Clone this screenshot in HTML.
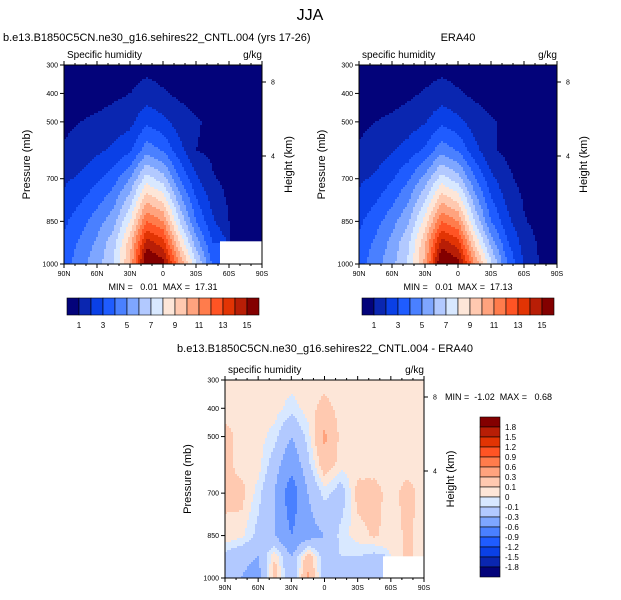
<!DOCTYPE html>
<html><head><meta charset="utf-8">
<style>
body{margin:0;background:#fff;}
svg{display:block;font-family:"Liberation Sans",Arial,sans-serif;}
text{white-space:pre;}
</style></head>
<body>
<svg id="root" width="621" height="600" viewBox="0 0 621 600" xmlns="http://www.w3.org/2000/svg">
<text x="310" y="20" font-size="16" text-anchor="middle">JJA</text>
<g id="layer"></g>
</svg>
<script>
// ---- data ----
const lats = [90,75,60,45,30,15,0,-15,-30,-45,-60,-75,-90];
const plevs = [300,400,500,600,700,850,925,1000];
const modelQ = [
 [0.2,0.2,0.3,0.4,0.5,0.7,0.6,0.4,0.3,0.2,0.1,0.1,0.1],
 [0.4,0.5,0.6,0.8,1.0,1.4,1.1,0.8,0.6,0.4,0.3,0.1,0.1],
 [0.8,1.0,1.2,1.4,1.7,2.8,2.3,1.5,1.1,0.8,0.5,0.3,0.2],
 [1.1,1.4,1.8,2.2,2.8,4.6,3.9,2.4,1.0,0.8,0.6,0.4,0.3],
 [1.8,2.2,2.8,3.6,5.0,7.5,6.5,4.0,2.2,1.1,0.7,0.5,0.4],
 [2.8,3.6,4.5,5.6,8.0,12,11,7.0,4.0,2.2,1.0,0.6,0.5],
 [3.2,4.2,5.2,6.6,9.5,14.5,13.5,9.0,5.5,3.0,NaN,NaN,NaN],
 [3.6,4.6,5.6,7.0,10,16.5,15.5,11,7.2,3.8,NaN,NaN,NaN]
];
const eraQ = [
 [0.2,0.2,0.3,0.4,0.5,0.7,0.6,0.4,0.3,0.2,0.1,0.1,0.1],
 [0.4,0.5,0.6,0.8,1.1,1.4,1.1,0.8,0.6,0.4,0.3,0.1,0.1],
 [0.8,1.0,1.2,1.5,1.9,2.8,2.3,1.5,1.1,0.8,0.5,0.3,0.2],
 [1.1,1.4,1.9,2.4,3.2,4.6,3.9,2.4,1.1,0.8,0.6,0.4,0.3],
 [1.8,2.2,2.9,3.9,5.4,7.5,6.5,4.1,2.3,1.2,0.7,0.5,0.4],
 [2.8,3.6,4.6,5.9,8.4,12,11,7.0,4.0,2.3,1.1,0.6,0.5],
 [3.2,4.2,5.3,6.8,9.8,14.5,13.5,9.0,5.6,3.1,1.6,0.8,0.6],
 [3.6,4.6,5.7,7.2,10.3,16.5,15.5,11,7.3,4.0,1.9,0.9,0.7]
];
const diffQ = [
 [.05,.05,.05,.05,.05,.05,.05,.05,.05,.05,.05,.05,.05],
 [.05,.05,.05,.05,-.05,.05,.15,.05,.05,.05,.05,.05,.05],
 [.15,.05,.05,-.05,-.3,-.05,.35,.05,.05,.05,.05,.05,.05],
 [.15,.05,.05,-.2,-.5,-.15,.2,.05,.05,.05,.05,.05,.05],
 [.12,.15,-.05,-.3,-.8,-.3,-.05,-.2,.15,.15,.05,.15,.05],
 [.08,.03,-.15,-.3,-.6,-.4,-.3,-.05,.05,.12,.05,.12,.05],
 [-.15,-.25,-.3,.1,-.3,.2,-.2,-.1,-.1,-.15,NaN,NaN,NaN],
 [-.2,-.3,-.4,.2,-.3,.35,-.2,-.15,-.15,-.2,NaN,NaN,NaN]
];
const qLevels = [1,2,3,4,5,6,7,8,9,10,11,12,13,14,15];
const qLabels = ["1","3","5","7","9","11","13","15"];
const dLevels = [-1.8,-1.5,-1.2,-0.9,-0.6,-0.3,-0.1,0,0.1,0.3,0.6,0.9,1.2,1.5,1.8];
const dLabels = ["-1.8","-1.5","-1.2","-0.9","-0.6","-0.3","-0.1","0","0.1","0.3","0.6","0.9","1.2","1.5","1.8"];
const pTicks = [300,400,500,700,850,1000];
const latTicks = [90,60,30,0,-30,-60,-90];
const latTickLabels = ["90N","60N","30N","0","30S","60S","90S"];
const colors = ["#03037a","#0a26b0","#0a40e6","#1f5cff","#4a80ff","#7ea6ff","#b2c9ff","#d8e8ff","#fde6d8","#ffc9b0","#ffa37e","#ff7c4c","#ff5424","#e23404","#b81e06","#830000"];

const NS="http://www.w3.org/2000/svg";
const layer=document.getElementById('layer');
function mk(tag,attrs,parent){const e=document.createElementNS(NS,tag);for(const k in attrs)e.setAttribute(k,attrs[k]);(parent||layer).appendChild(e);return e;}
function txt(s,x,y,size,anchor,parent){const t=mk('text',{x:x,y:y,'font-size':size,'text-anchor':anchor||'start'},parent);t.textContent=s;return t;}

function field(grid,lat,p){
  let fi=(90-lat)/15; let i=Math.min(Math.floor(fi),lats.length-2); let a=fi-i;
  let j=0; while(j<plevs.length-2 && p>plevs[j+1]) j++;
  let b=(p-plevs[j])/(plevs[j+1]-plevs[j]);
  const ni=Math.round(fi);
  if(p>=922 && isNaN(grid[6][ni])) return NaN;
  const f=(x)=>isNaN(x)?null:x;
  let vals=[[f(grid[j][i]),(1-a)*(1-b)],[f(grid[j][i+1]),a*(1-b)],[f(grid[j+1][i]),(1-a)*b],[f(grid[j+1][i+1]),a*b]];
  let s=0,w=0;for(const [v,ww] of vals){if(v!==null){s+=v*ww;w+=ww;}}
  return w>0?s/w:NaN;
}
function band(v,levels){let k=0;while(k<levels.length&&v>=levels[k])k++;return k;}

function panel(name,x0,y0,w,h,grid,levels,sub){
  const g=mk('g',{});
  
  
  const xs=lat=>x0+(90-lat)/180*w;
  const ys=p=>y0+(p-300)/700*h;
  const cell=2;
  const fg=mk('g',{},g);
  
  
  const cols=Math.ceil(w/cell);
  for(let py=0;py<h;py+=cell){
    const p=300+(py+cell/2)/h*700;
    let runStart=0,runK=null;
    for(let c=0;c<=cols;c++){
      const px=Math.min(c*cell,w);
      let k=null;
      if(c<cols){const lat=90-(px+cell/2)/w*180;const v=field(grid,lat,p);k=isNaN(v)?-1:band(v,levels);}
      if(k!==runK){
        if(runK!==null&&runK>=0){
          const r=mk('rect',{x:x0+runStart,y:y0+py,width:px-runStart,height:Math.min(cell,h-py)+0.3,fill:colors[runK]},fg);
          
          
        }
        runStart=px;runK=k;
      }
    }
  }
  const fr=mk('rect',{x:x0,y:y0,width:w,height:h,fill:'none',stroke:'#000','stroke-width':1},g);
  
  
  const ax=mk('g',{'font-size':7},g);
  
  
  pTicks.forEach(p=>{mk('line',{x1:x0-4,x2:x0,y1:ys(p),y2:ys(p),stroke:'#000'},ax);
    const t=txt(String(p),x0-6,ys(p)+2.5,7,'end',ax);
    
    });
  latTicks.forEach((l,i)=>{mk('line',{x1:xs(l),x2:xs(l),y1:y0+h,y2:y0+h+4,stroke:'#000'},ax);
    mk('line',{x1:xs(l),x2:xs(l),y1:y0,y2:y0-4,stroke:'#000'},ax);
    const t=txt(latTickLabels[i],xs(l),y0+h+12,7,'middle',ax);
    
    });
  for(let l=80;l>-90;l-=10){if(l%30){mk('line',{x1:xs(l),x2:xs(l),y1:y0+h,y2:y0+h+2,stroke:'#000'},ax);mk('line',{x1:xs(l),x2:xs(l),y1:y0,y2:y0-2,stroke:'#000'},ax);}}
  [[8,17],[4,91]].forEach(([km,dy])=>{mk('line',{x1:x0+w,x2:x0+w+4,y1:y0+dy,y2:y0+dy,stroke:'#000'},ax);txt(String(km),x0+w+9,y0+dy+2.5,7,'start',ax);});
  const yt=txt('Pressure (mb)',0,0,11,'middle',g);
  yt.setAttribute('transform',`translate(${x0-34},${y0+h/2}) rotate(-90)`);
  
  
  const ht=txt('Height (km)',0,0,11,'middle',g);
  ht.setAttribute('transform',`translate(${x0+w+30},${y0+h/2}) rotate(-90)`);
  
  
  const s=txt(sub,x0+3,y0-7,10,'start',g);
  
  
  const u=txt('g/kg',x0+w,y0-7,10,'end',g);
  
  
}

function hbar(name,x0,y0){
  const g=mk('g',{});
  
  
  colors.forEach((c,i)=>{const r=mk('rect',{x:x0+i*12,y:y0,width:12,height:17,fill:c,stroke:'#000','stroke-width':0.6},g);
    
    });
  qLabels.forEach((l,i)=>{const t=txt(l,x0+12+i*24,y0+30,8,'middle',g);
    
    });
}

panel('model-panel',64,65,198,199,modelQ,qLevels,'Specific humidity');
panel('era40-panel',359,65,198,199,eraQ,qLevels,'specific humidity');
panel('difference-panel',225,380,199,198,diffQ,dLevels,'specific humidity');
hbar('model-colorbar',67,298);
hbar('era40-colorbar',362,298);

const vb=mk('g',{});


for(let i=0;i<16;i++){const r=mk('rect',{x:480,y:417+i*10,width:20,height:10,fill:colors[15-i],stroke:'#000','stroke-width':0.6},vb);
  
  }
dLabels.slice().reverse().forEach((l,i)=>{const t=txt(l,505,430+i*10,8,'start',vb);
  
  });

const T=[
 ['model-title','b.e13.B1850C5CN.ne30_g16.sehires22_CNTL.004 (yrs 17-26)',3,41,11,'start'],
 ['era40-title','ERA40',458,41,11,'middle'],
 ['model-minmax','MIN =   0.01  MAX =  17.31',163,290,9,'middle'],
 ['era40-minmax','MIN =   0.01  MAX =  17.13',458,290,9,'middle'],
 ['difference-title','b.e13.B1850C5CN.ne30_g16.sehires22_CNTL.004 - ERA40',325,352,11,'middle'],
 ['difference-minmax','MIN =  -1.02  MAX =   0.68',445,400,9,'start']
];
T.forEach(([n,s,x,y,f,a])=>{const t=txt(s,x,y,f,a);
  
  });
</script>
</body></html>
